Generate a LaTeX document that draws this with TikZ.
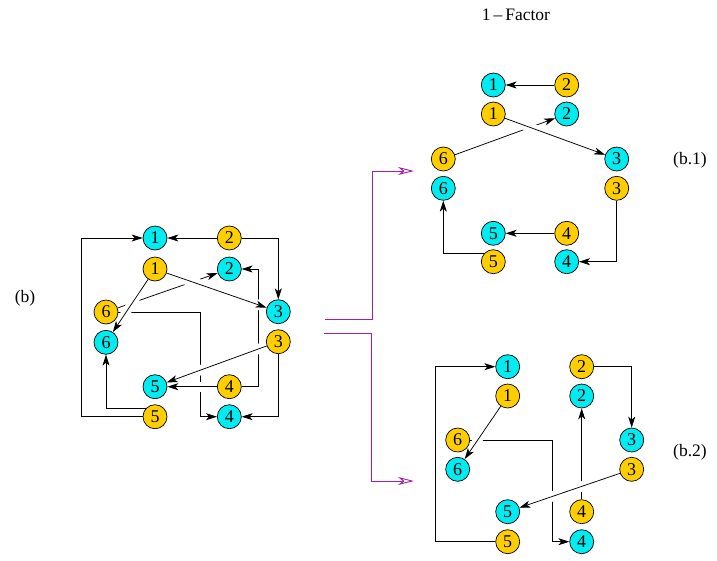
\documentclass[tikz,border=0pt]{standalone}
\usepackage{fontspec}
\setmainfont{Liberation Serif}
\usetikzlibrary{arrows.meta}
\pgfdeclarelayer{edges}
\pgfsetlayers{edges,main}
\definecolor{vcyan}{RGB}{0,236,240}
\definecolor{vgold}{RGB}{255,206,0}
\definecolor{fmag}{RGB}{165,30,165}
\tikzset{
  vert/.style={circle,draw=black,line width=0.7pt,minimum size=24pt,inner sep=0pt,
    font=\fontsize{18}{18}\selectfont},
  cv/.style={vert,fill=vcyan},
  gv/.style={vert,fill=vgold},
  edge/.style={line width=0.75pt,-{Stealth[length=11pt,width=7pt,inset=3pt]}},
  % an edge that passes over another one leaves a white gap in the lower line
  over/.style n args={3}{preaction={draw=white,-,line width=#1,shorten <=#2,shorten >=#3}},
  lbl/.style={font=\fontsize{17.5}{17.5}\selectfont},
  branch/.style={draw=fmag,line width=0.9pt,-{Stealth[open,length=16pt,width=8pt,inset=5pt]}}
}
\begin{document}
\begin{tikzpicture}[x=1pt,y=-1pt]
\useasboundingbox (0,0) rectangle (717,560);

% ---------- graph (b) ----------
\node[cv] (a-c1) at (155,238)   {1};
\node[gv] (a-g2) at (229.3,238) {2};
\node[gv] (a-g1) at (155,269)   {1};
\node[cv] (a-c2) at (229.3,269) {2};
\node[cv] (a-c3) at (278.3,311.7) {3};
\node[gv] (a-g6) at (106,312)   {6};
\node[cv] (a-c6) at (106,342.3) {6};
\node[gv] (a-g3) at (278.3,341.7) {3};
\node[cv] (a-c5) at (155,386.7) {5};
\node[gv] (a-g4) at (229.3,386.7) {4};
\node[gv] (a-g5) at (155,416.7) {5};
\node[cv] (a-c4) at (229.3,416.7) {4};
\coordinate (a-k1) at (200,312);
\coordinate (a-k2) at (258.5,386.7);
\coordinate (a-k3) at (81.7,416.7);

% ---------- graph (b.1) ----------
\node[cv] (b-c1) at (493.3,85)    {1};
\node[gv] (b-g2) at (566.7,85)    {2};
\node[gv] (b-g1) at (493.3,114)   {1};
\node[cv] (b-c2) at (566.7,114)   {2};
\node[gv] (b-g6) at (443.3,159)   {6};
\node[cv] (b-c3) at (616.7,159)   {3};
\node[cv] (b-c6) at (443.3,188.3) {6};
\node[gv] (b-g3) at (616.7,188.3) {3};
\node[cv] (b-c5) at (493.3,233.3) {5};
\node[gv] (b-g4) at (566.7,233.3) {4};
\node[gv] (b-g5) at (493.3,261.7) {5};
\node[cv] (b-c4) at (566.7,261.7) {4};

% ---------- graph (b.2) ----------
\node[cv] (c-c1) at (507.7,366.7) {1};
\node[gv] (c-g2) at (581.7,366.7) {2};
\node[gv] (c-g1) at (507.7,396)   {1};
\node[cv] (c-c2) at (581.7,396)   {2};
\node[gv] (c-g6) at (457.7,440)   {6};
\node[cv] (c-c3) at (631.7,440)   {3};
\node[cv] (c-c6) at (457.7,469.3) {6};
\node[gv] (c-g3) at (631.7,469.3) {3};
\node[cv] (c-c5) at (507.7,511.7) {5};
\node[gv] (c-g4) at (581.7,511.7) {4};
\node[gv] (c-g5) at (507.7,541.7) {5};
\node[cv] (c-c4) at (581.7,541.7) {4};
\coordinate (c-k1) at (552.7,440);
\coordinate (c-k2) at (435,541.7);

% ---------- labels ----------
\node[lbl] (t-b)  at (25,298)  {(b)};
\node[lbl] (t-b1) at (690,160) {(b.1)};
\node[lbl] (t-b2) at (690,452) {(b.2)};
\node[lbl] (t-f)  at (516,15)  {1\,\textendash\,Factor};

% ---------- branch connectors ----------
\coordinate (m1s) at (325,319);
\coordinate (m1e) at (414,171);
\coordinate (m2s) at (324,333);
\coordinate (m2e) at (414,481);

\begin{pgfonlayer}{edges}
  % lower lines first
  \draw[edge] (a-g6) -- (a-c2);
  \draw[edge] (a-g6) -- (a-k1) |- (a-c4);
  \draw[edge] (a-g4) -- (a-k2) |- (a-c2);
  % remaining edges of (b)
  \draw[edge] (a-g2) -- (a-c1);
  \draw[edge] (a-g2) -| (a-c3);
  \draw[edge] (a-g3) |- (a-c4);
  \draw[edge] (a-g5.140) -| (a-c6);
  \draw[edge] (a-g5) -- (a-k3) |- (a-c1);
  \draw[edge,over={9pt}{4pt}{14pt}] (a-g1) -- (a-c6);
  \draw[edge,over={10pt}{14pt}{3pt}] (a-g1) -- (a-c3);
  \draw[edge,over={10pt}{3pt}{14pt}] (a-g3) -- (a-c5);
  \draw[edge,over={10pt}{6pt}{14pt}] (a-g4) -- (a-c5);

  % (b.1)
  \draw[edge] (b-g6) -- (b-c2);
  \draw[edge] (b-g2) -- (b-c1);
  \draw[edge] (b-g3) |- (b-c4);
  \draw[edge] (b-g4) -- (b-c5);
  \draw[edge] (b-g5.140) -| (b-c6);
  \draw[edge,over={9pt}{14pt}{14pt}] (b-g1) -- (b-c3);

  % (b.2)
  \draw[edge] (c-g6) -- (c-k1) |- (c-c4);
  \draw[edge] (c-g4) -- (c-c2);
  \draw[edge] (c-g2) -| (c-c3);
  \draw[edge] (c-g5) -- (c-k2) |- (c-c1);
  \draw[edge,over={9pt}{14pt}{14pt}] (c-g1) -- (c-c6);
  \draw[edge,over={10pt}{14pt}{14pt}] (c-g3) -- (c-c5);

  % branches towards the two factors
  \draw[branch] (m1s) -- ++(47.3,0) |- (m1e);
  \draw[branch] (m2s) -- ++(47.3,0) |- (m2e);
\end{pgfonlayer}
\end{tikzpicture}
\end{document}
